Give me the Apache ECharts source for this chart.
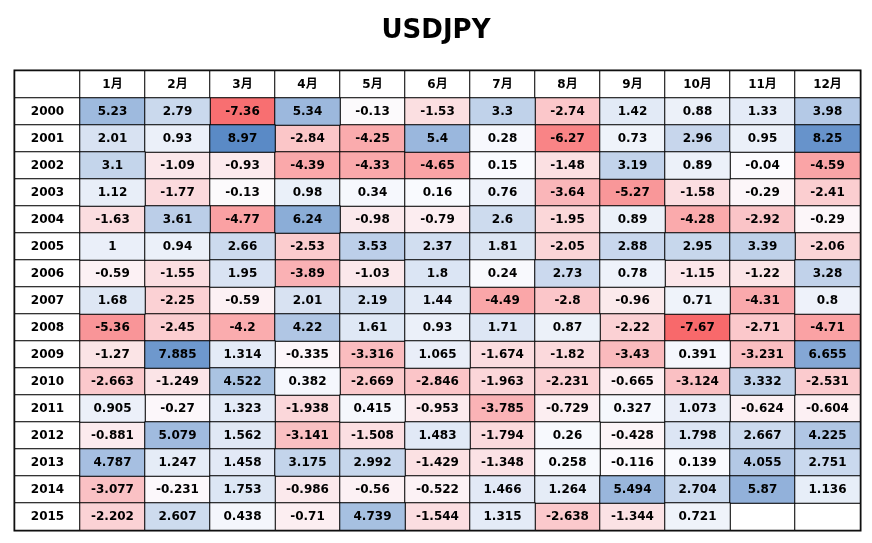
<!DOCTYPE html>
<html>
<head>
<meta charset="utf-8">
<script src="https://cdn.jsdelivr.net/npm/echarts@6/dist/echarts.min.js"></script>
<style>
html,body{margin:0;padding:0;background:#fff;}
#main{width:872px;height:543px;}
</style>
</head>
<body>
<div id="main"></div>
<script>
var months=['1月','2月','3月','4月','5月','6月','7月','8月','9月','10月','11月','12月'];
var years=['2000','2001','2002','2003','2004','2005','2006','2007','2008','2009','2010','2011','2012','2013','2014','2015'];

// 月次騰落率 (%)
var r2000=[5.23,2.79,-7.36,5.34,-0.13,-1.53,3.3,-2.74,1.42,0.88,1.33,3.98];
var r2001=[2.01,0.93,8.97,-2.84,-4.25,5.4,0.28,-6.27,0.73,2.96,0.95,8.25];
var r2002=[3.1,-1.09,-0.93,-4.39,-4.33,-4.65,0.15,-1.48,3.19,0.89,-0.04,-4.59];
var r2003=[1.12,-1.77,-0.13,0.98,0.34,0.16,0.76,-3.64,-5.27,-1.58,-0.29,-2.41];
var r2004=[-1.63,3.61,-4.77,6.24,-0.98,-0.79,2.6,-1.95,0.89,-4.28,-2.92,-0.29];
var r2005=[1,0.94,2.66,-2.53,3.53,2.37,1.81,-2.05,2.88,2.95,3.39,-2.06];
var r2006=[-0.59,-1.55,1.95,-3.89,-1.03,1.8,0.24,2.73,0.78,-1.15,-1.22,3.28];
var r2007=[1.68,-2.25,-0.59,2.01,2.19,1.44,-4.49,-2.8,-0.96,0.71,-4.31,0.8];
var r2008=[-5.36,-2.45,-4.2,4.22,1.61,0.93,1.71,0.87,-2.22,-7.67,-2.71,-4.71];
var r2009=[-1.27,7.885,1.314,-0.335,-3.316,1.065,-1.674,-1.82,-3.43,0.391,-3.231,6.655];
var r2010=[-2.663,-1.249,4.522,0.382,-2.669,-2.846,-1.963,-2.231,-0.665,-3.124,3.332,-2.531];
var r2011=[0.905,-0.27,1.323,-1.938,0.415,-0.953,-3.785,-0.729,0.327,1.073,-0.624,-0.604];
var r2012=[-0.881,5.079,1.562,-3.141,-1.508,1.483,-1.794,0.26,-0.428,1.798,2.667,4.225];
var r2013=[4.787,1.247,1.458,3.175,2.992,-1.429,-1.348,0.258,-0.116,0.139,4.055,2.751];
var r2014=[-3.077,-0.231,1.753,-0.986,-0.56,-0.522,1.466,1.264,5.494,2.704,5.87,1.136];
var r2015=[-2.202,2.607,0.438,-0.71,4.739,-1.544,1.315,-2.638,-1.344,0.721,null,null];

var rows=[r2000,r2001,r2002,r2003,r2004,r2005,r2006,r2007,r2008,r2009,r2010,r2011,r2012,r2013,r2014,r2015];

function buildChart(){
	var dom=document.getElementById("main");
	var myChart=echarts.init(dom);

	var xCats=[''].concat(months);
	var yCats=[''].concat(years);

	//見出しセル(白)と空セル
	var headData=[{value:[0,0,0],name:''}];
	months.forEach(function(m,i){ headData.push({value:[i+1,0,0],name:m}); });
	years.forEach(function(y,j){ headData.push({value:[0,j+1,0],name:y}); });

	var negData=[],posData=[];
	var lo=0,hi=0;
	rows.forEach(function(row,j){
		row.forEach(function(v,i){
			if(v===null){
				headData.push({value:[i+1,j+1,0],name:''});
				return;
			}
			if(v<0) negData.push({value:[i+1,j+1,v],name:String(v)});
			else posData.push({value:[i+1,j+1,v],name:String(v)});
			if(v<lo) lo=v;
			if(v>hi) hi=v;
		});
	});

	var cellLabel={
		show:true,color:'#000',fontWeight:'bold',fontSize:12,
		fontFamily:'DejaVu Sans, Noto Sans CJK JP, sans-serif',
		formatter:function(p){return p.name;}
	};
	var cellStyle={borderColor:'#000',borderWidth:1};

	var option={
		animation:false,
		title:{
			text:'USDJPY',left:'center',top:13,
			textStyle:{fontSize:26,fontWeight:'bold',color:'#000',fontFamily:'DejaVu Sans, sans-serif'}
		},
		grid:{left:15,right:12,top:71,bottom:13,show:true,borderColor:'#000',borderWidth:3,backgroundColor:'#fff'},
		xAxis:{type:'category',data:xCats,show:false},
		yAxis:{type:'category',data:yCats,inverse:true,show:false},
		visualMap:[
			{type:'continuous',show:false,seriesIndex:1,min:lo,max:0,dimension:2,
				inRange:{color:['#F8696B','#FCFCFF']}},
			{type:'continuous',show:false,seriesIndex:2,min:0,max:hi,dimension:2,
				inRange:{color:['#FCFCFF','#5A8AC6']}}
		],
		series:[
			{type:'heatmap',data:headData,itemStyle:{color:'#fff',borderColor:'#000',borderWidth:1},label:cellLabel,emphasis:{disabled:true}},
			{type:'heatmap',data:negData,itemStyle:cellStyle,label:cellLabel,emphasis:{disabled:true}},
			{type:'heatmap',data:posData,itemStyle:cellStyle,label:cellLabel,emphasis:{disabled:true}}
		]
	};
	myChart.setOption(option,true);
}
buildChart();
</script>
</body>
</html>
